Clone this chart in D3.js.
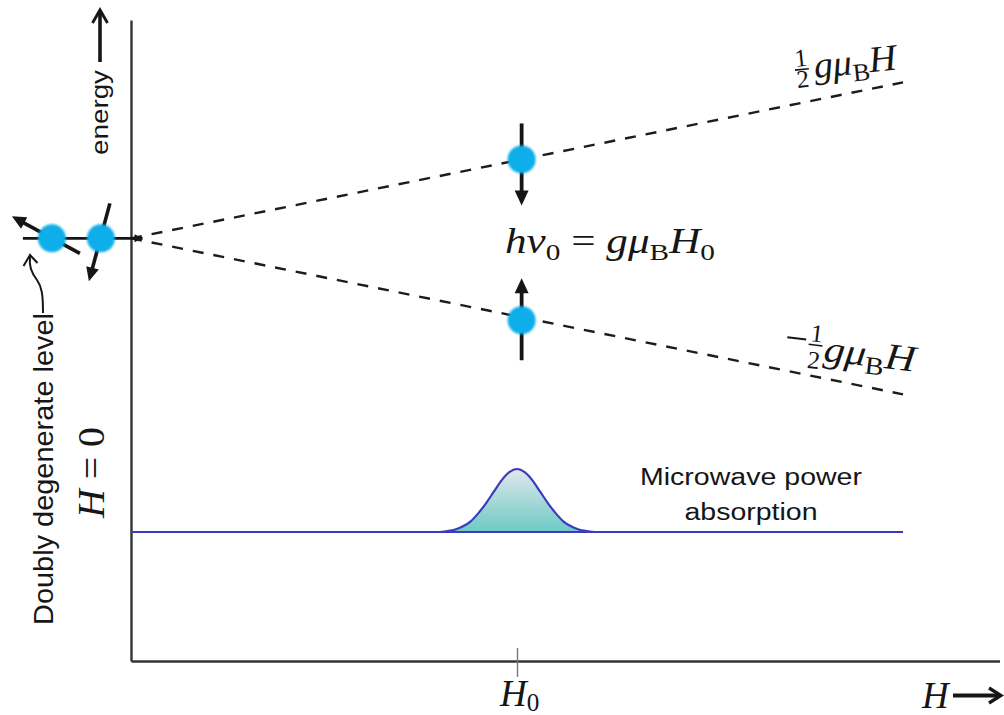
<!DOCTYPE html>
<html><head><meta charset="utf-8">
<script src="https://cdn.jsdelivr.net/npm/d3@7"></script>
<style>body{margin:0;background:#fff}svg{display:block}</style>
</head><body>
<svg id="chart" width="1004" height="715"></svg>
<script>
// ---------------- data ----------------
const hDomain = [0, 2.25];                 // magnetic field H (H0 = 1)
const energyDomain = [-2.71, 1.40];        // energy in units of gμB·H0
const h0 = 1;
const levelSlopes = [0.5, -0.5];           // E = ±½ gμB H
const levelHRange = [0, 2];
const zeroLevelH = [-0.28, 0.03];          // short level line drawn at H = 0
const degenerateH = [-0.205, -0.078];      // the two spins of the doubly degenerate level
const spinH = [1.012];                     // spins drawn at resonance
const absorptionH = [0.80,0.82,0.84,0.86,0.88,0.90,0.92,0.94,0.96,0.98,1.00,1.02,1.04,1.06,1.08,1.10,1.12,1.14,1.16,1.18,1.20];
const absorptionValues = [0,0.015,0.04,0.09,0.17,0.30,0.46,0.64,0.82,0.95,1.00,0.95,0.82,0.64,0.46,0.30,0.17,0.09,0.04,0.015,0];
const baselineHRange = [0, 2];
const tickLabels = ["H", "0"];
const axisLabelH = "H";
const energyLabel = "energy";
const degenerateLabel = "Doubly degenerate level";
const absorptionLabel = ["Microwave power", "absorption"];

// ---------------- scales ----------------
const svg = d3.select("#chart");
const x = d3.scaleLinear().domain(hDomain).range([131, 999.5]);
const y = d3.scaleLinear().domain(energyDomain).range([661, 20]);
const yAbs = d3.scaleLinear().domain([0, 1]).range([532, 469]);

const serif = "'Liberation Serif','Times New Roman',serif";
const sans = "'Liberation Sans',Arial,Helvetica,sans-serif";
const ink = "#161616";

const defs = svg.append("defs");
defs.append("filter").attr("id", "soft").attr("x", "-30%").attr("y", "-30%").attr("width", "160%").attr("height", "160%")
  .append("feGaussianBlur").attr("stdDeviation", 0.9);
const grad = defs.append("linearGradient").attr("id", "peakFill")
  .attr("gradientUnits", "userSpaceOnUse").attr("x1", 0).attr("x2", 0)
  .attr("y1", yAbs(1)).attr("y2", yAbs(0));
grad.append("stop").attr("offset", 0).attr("stop-color", "#e2e7ec");
grad.append("stop").attr("offset", 1).attr("stop-color", "#6ccac4");

// ---------------- helpers ----------------
function solidArrow(g, x1, y1, x2, y2, w, headLen, headW) {
  const dx = x2 - x1, dy = y2 - y1, L = Math.hypot(dx, dy), ux = dx / L, uy = dy / L;
  const bx = x2 - ux * headLen, by = y2 - uy * headLen;
  g.append("line").attr("x1", x1).attr("y1", y1).attr("x2", bx + ux).attr("y2", by + uy)
    .attr("stroke", ink).attr("stroke-width", w);
  g.append("path")
    .attr("d", `M${x2},${y2}L${bx - uy * headW / 2},${by + ux * headW / 2}L${bx + uy * headW / 2},${by - ux * headW / 2}Z`)
    .attr("fill", ink);
}
function chevronArrow(g, x1, y1, x2, y2, w, headLen, headW) {
  const dx = x2 - x1, dy = y2 - y1, L = Math.hypot(dx, dy), ux = dx / L, uy = dy / L;
  const bx = x2 - ux * headLen, by = y2 - uy * headLen;
  g.append("line").attr("x1", x1).attr("y1", y1).attr("x2", x2 - ux * 2).attr("y2", y2 - uy * 2)
    .attr("stroke", ink).attr("stroke-width", w);
  g.append("path")
    .attr("d", `M${bx - uy * headW / 2},${by + ux * headW / 2}L${x2},${y2}L${bx + uy * headW / 2},${by - ux * headW / 2}`)
    .attr("fill", "none").attr("stroke", ink).attr("stroke-width", w * 0.8).attr("stroke-linejoin", "miter");
}
// math text: parts = [{t, it, sub}]
function mathText(g, px, py, size, parts, len, subShift) {
  const t = g.append("text").attr("x", px).attr("y", py)
    .attr("font-family", serif).attr("font-size", size).attr("fill", ink);
  let shift = 0;
  const sh = subShift === undefined ? size * 0.2 : subShift;
  parts.forEach(p => {
    const s = t.append("tspan").text(p.t);
    const target = p.sub ? sh : 0;
    if (target !== shift) { s.attr("dy", target - shift); shift = target; }
    if (p.it) s.attr("font-style", "italic");
    if (p.sub) s.attr("font-size", size * 0.68);
  });
  if (len) t.attr("textLength", len).attr("lengthAdjust", "spacingAndGlyphs");
  return t;
}

// ---------------- axes ----------------
const xAxis = d3.axisBottom(x).tickValues([h0]).tickSizeOuter(0).tickFormat("");
const gx = svg.append("g").attr("transform", `translate(0,${y(energyDomain[0])})`).call(xAxis);
gx.select(".domain").attr("stroke", "#333").attr("stroke-width", 2.6);
gx.selectAll(".tick line").attr("y1", -13).attr("y2", 16).attr("stroke", "#777").attr("stroke-width", 1.4);

const yAxis = d3.axisLeft(y).tickValues([]).tickSizeOuter(0);
const gy = svg.append("g").attr("transform", `translate(${x(0)},0)`).call(yAxis);
gy.select(".domain").attr("stroke", "#333").attr("stroke-width", 2.4);

// tick label H0
mathText(svg, x(h0) - 17, 706, 37, [{ t: tickLabels[0], it: true }, { t: tickLabels[1], sub: true }], null, 5);
// H → label
mathText(svg, 922, 708, 37, [{ t: axisLabelH, it: true }]);
chevronArrow(svg, 953, 695.5, 1001, 695.5, 4.2, 12, 15);

// energy label
svg.append("text").attr("transform", "translate(108,155) rotate(-90)")
  .attr("font-family", sans).attr("font-size", 24).attr("fill", ink)
  .attr("textLength", 85).attr("lengthAdjust", "spacingAndGlyphs").text(energyLabel);
chevronArrow(svg, 100, 62, 100, 10, 3.6, 13, 15);

// ---------------- energy levels ----------------
const levelLine = d3.line().x(d => x(d.h)).y(d => y(d.e));
levelSlopes.forEach(s => {
  svg.append("path")
    .attr("d", levelLine(levelHRange.map(h => ({ h, e: s * h }))))
    .attr("fill", "none").attr("stroke", "#1c1c1c").attr("stroke-width", 2.4)
    .attr("stroke-dasharray", "11,10");
});

// zero-field level line with small arrow tip
svg.append("path").attr("d", levelLine(zeroLevelH.map(h => ({ h, e: 0 }))))
  .attr("stroke", ink).attr("stroke-width", 2.6).attr("fill", "none");
svg.append("path")
  .attr("d", `M${x(zeroLevelH[1])},${y(0)}l-8,-4l0,8Z`).attr("fill", ink);

// spins at H = 0
const sp0 = svg.append("g");
const d1 = [x(degenerateH[0]), y(0)], d2 = [x(degenerateH[1]), y(0)];
solidArrow(sp0, d1[0] + 28, d1[1] + 15, d1[0] - 40, d1[1] - 22, 3.6, 14, 13);
solidArrow(sp0, d2[0] + 9, d2[1] - 35, d2[0] - 12, d2[1] + 43, 3.6, 14, 13);

// spins at resonance
const sp1 = svg.append("g");
spinH.forEach(h => {
  const xu = x(h), yu = y(0.5 * h), yl = y(-0.5 * h) + 3;
  solidArrow(sp1, xu, yu - 36, xu, yu + 46, 3.8, 15, 14);
  solidArrow(sp1, xu, yl + 40, xu, yl - 42, 3.8, 15, 14);
});

// dots
const dotPts = degenerateH.map(h => [x(h), y(0)])
  .concat(spinH.flatMap(h => [[x(h), y(0.5 * h)], [x(h), y(-0.5 * h) + 3]]));
svg.append("g").selectAll("circle").data(dotPts).join("circle")
  .attr("cx", d => d[0]).attr("cy", d => d[1]).attr("r", 14)
  .attr("fill", "#0eaeea").attr("filter", "url(#soft)");

// resonance formula
mathText(svg, 505, 253, 35, [
  { t: "hν", it: true }, { t: "0", sub: true }, { t: " = " },
  { t: "gμ", it: true }, { t: "B", sub: true }, { t: "H", it: true }, { t: "0", sub: true }
], 210);

// level labels
function fracLabel(tx, ty, rot, minus, fx, f1y, barY, f2y, mainX, mainLen) {
  const g = svg.append("g").attr("transform", `translate(${tx},${ty}) rotate(${rot})`);
  if (minus) g.append("line").attr("x1", 0).attr("x2", 19).attr("y1", -19).attr("y2", -19)
    .attr("stroke", ink).attr("stroke-width", 2);
  g.append("text").attr("x", fx).attr("y", f1y).attr("text-anchor", "middle")
    .attr("font-family", serif).attr("font-size", 25).attr("fill", ink).text("1");
  g.append("line").attr("x1", fx - 7).attr("x2", fx + 7).attr("y1", barY).attr("y2", barY)
    .attr("stroke", ink).attr("stroke-width", 1.6);
  g.append("text").attr("x", fx).attr("y", f2y).attr("text-anchor", "middle")
    .attr("font-family", serif).attr("font-size", 25).attr("fill", ink).text("2");
  mathText(g, mainX, 0, 37, [{ t: "gμ", it: true }, { t: "B", sub: true }, { t: "H", it: true }], mainLen);
}
fracLabel(797, 80, -6, false, 6, -13, -10, 8, 18, 83);
fracLabel(785, 356, 7, true, 29, -18, -14.5, 9, 38, 92);

// ---------------- absorption ----------------
const absData = absorptionH.map((h, i) => ({ h, v: absorptionValues[i] }));
svg.append("path")
  .attr("d", d3.area().x(d => x(d.h)).y0(yAbs(0)).y1(d => yAbs(d.v)).curve(d3.curveMonotoneX)(absData))
  .attr("fill", "url(#peakFill)");
svg.append("path")
  .attr("d", d3.line().x(d => x(d.h)).y(d => yAbs(0)).curve(d3.curveLinear)(baselineHRange.map(h => ({ h }))))
  .attr("stroke", "#3b3bbd").attr("stroke-width", 2.2).attr("fill", "none");
svg.append("path")
  .attr("d", d3.line().x(d => x(d.h)).y(d => yAbs(d.v)).curve(d3.curveMonotoneX)(absData))
  .attr("stroke", "#3b3bbd").attr("stroke-width", 2.2).attr("fill", "none");

svg.append("text").attr("x", 751).attr("y", 485).attr("text-anchor", "middle")
  .attr("font-family", sans).attr("font-size", 23).attr("fill", ink)
  .attr("textLength", 222).attr("lengthAdjust", "spacingAndGlyphs").text(absorptionLabel[0]);
svg.append("text").attr("x", 751).attr("y", 520).attr("text-anchor", "middle")
  .attr("font-family", sans).attr("font-size", 23).attr("fill", ink)
  .attr("textLength", 133).attr("lengthAdjust", "spacingAndGlyphs").text(absorptionLabel[1]);

// ---------------- left annotations ----------------
svg.append("text").attr("transform", "translate(53,625) rotate(-90)")
  .attr("font-family", sans).attr("font-size", 28).attr("fill", ink)
  .attr("textLength", 312).attr("lengthAdjust", "spacingAndGlyphs").text(degenerateLabel);
svg.append("path")
  .attr("d", "M43,313 C43,295 42,287 37,280 C31,272 29,266 30,256")
  .attr("fill", "none").attr("stroke", ink).attr("stroke-width", 2);
svg.append("path").attr("d", "M23.5,266 L30,255 L37.5,263")
  .attr("fill", "none").attr("stroke", ink).attr("stroke-width", 2);

const h0t = svg.append("text").attr("transform", "translate(104,518) rotate(-90)")
  .attr("font-family", serif).attr("font-size", 37).attr("fill", ink)
  .attr("textLength", 91).attr("lengthAdjust", "spacingAndGlyphs");
h0t.append("tspan").attr("font-style", "italic").text("H");
h0t.append("tspan").text(" = 0");
</script>
</body></html>
